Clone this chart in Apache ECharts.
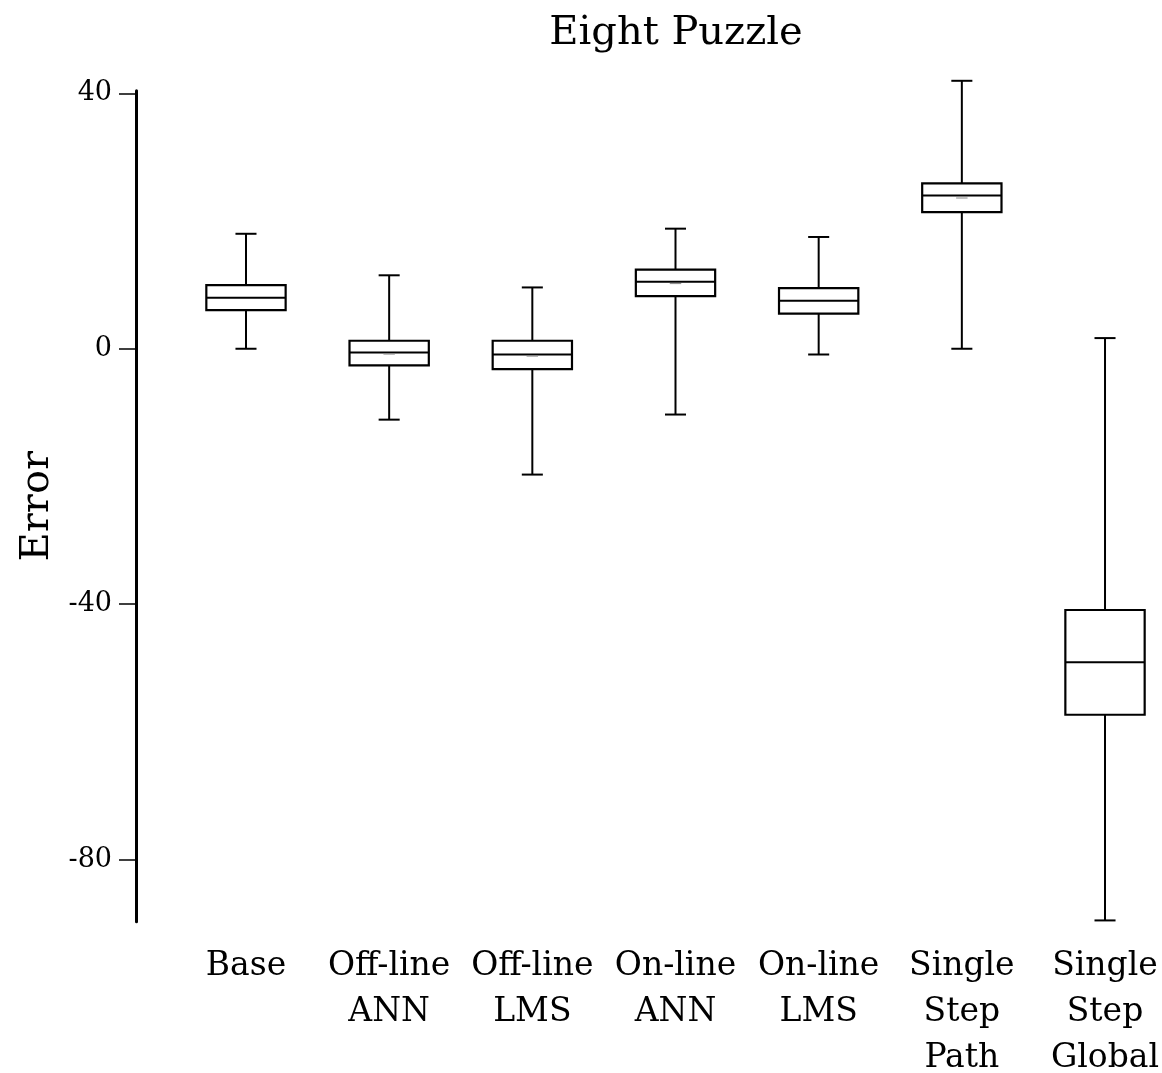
<!DOCTYPE html>
<html>
<head>
<meta charset="utf-8">
<script src="https://cdn.jsdelivr.net/npm/echarts@6/dist/echarts.min.js"></script>
<style>
html,body{margin:0;padding:0;background:#fff;overflow:hidden;}
#chart{width:1162px;height:1073px;}
</style>
</head>
<body>
<div id="chart"></div>
<script>
const categories = ['Base', 'Off-line\nANN', 'Off-line\nLMS', 'On-line\nANN', 'On-line\nLMS', 'Single\nStep\nPath', 'Single\nStep\nGlobal'];
const whiskerLow = [0, -11.1, -19.7, -10.3, -0.9, 0, -89.5];
const q1 = [6.06, -2.6, -3.2, 8.25, 5.5, 21.4, -57.3];
const median = [7.98, -0.58, -0.89, 10.5, 7.5, 24.0, -49.1];
const q3 = [9.97, 1.25, 1.25, 12.4, 9.5, 25.9, -40.9];
const whiskerHigh = [18.0, 11.5, 9.6, 18.8, 17.5, 41.95, 1.67];
const means = [null, -0.83, -1.15, 10.2, null, 23.6, null];
const yTicks = [40, 0, -40, -80];

const FONT = '"DejaVu Serif", serif';

const boxData = categories.map((c, i) => [i, whiskerLow[i], q1[i], median[i], q3[i], whiskerHigh[i], means[i] == null ? NaN : means[i]]);

function renderBox(params, api) {
  const idx = api.value(0);
  const band = api.size([1, 0])[0];
  const boxW = band * 0.554;
  const capW = band * 0.147;
  const meanW = band * 0.08;
  const pLow = api.coord([idx, api.value(1)]);
  const pQ1 = api.coord([idx, api.value(2)]);
  const pMed = api.coord([idx, api.value(3)]);
  const pQ3 = api.coord([idx, api.value(4)]);
  const pHigh = api.coord([idx, api.value(5)]);
  const x = pMed[0];
  const st = { stroke: '#000', lineWidth: 2, fill: null };
  const children = [
    { type: 'line', shape: { x1: x, y1: pHigh[1], x2: x, y2: pQ3[1] }, style: st },
    { type: 'line', shape: { x1: x, y1: pQ1[1], x2: x, y2: pLow[1] }, style: st },
    { type: 'line', shape: { x1: x - capW / 2, y1: pHigh[1], x2: x + capW / 2, y2: pHigh[1] }, style: st },
    { type: 'line', shape: { x1: x - capW / 2, y1: pLow[1], x2: x + capW / 2, y2: pLow[1] }, style: st },
    { type: 'rect', shape: { x: x - boxW / 2, y: pQ3[1], width: boxW, height: pQ1[1] - pQ3[1] }, style: { stroke: '#000', lineWidth: 2.2, fill: '#fff' } },
    { type: 'line', shape: { x1: x - boxW / 2, y1: pMed[1], x2: x + boxW / 2, y2: pMed[1] }, style: st }
  ];
  const mv = api.value(6);
  if (!isNaN(mv)) {
    const pMean = api.coord([idx, mv]);
    children.push({ type: 'line', shape: { x1: x - meanW / 2, y1: pMean[1], x2: x + meanW / 2, y2: pMean[1] }, style: { stroke: '#888', lineWidth: 1 } });
  }
  return { type: 'group', children: children };
}

const chart = echarts.init(document.getElementById('chart'), null, { renderer: 'canvas' });
chart.setOption({
  animation: false,
  backgroundColor: '#fff',
  title: {
    text: 'Eight Puzzle',
    left: 671,
    textAlign: 'center',
    top: 9,
    textStyle: { fontFamily: FONT, fontSize: 40, fontWeight: 'normal', color: '#000' }
  },
  grid: { left: 174.4, right: -14.6, top: 90.7, bottom: 151.3, containLabel: false, outerBoundsMode: 'none' },
  xAxis: {
    type: 'category',
    data: categories,
    axisLine: { show: false },
    axisTick: { show: false },
    splitLine: { show: false },
    axisLabel: {
      interval: 0,
      margin: 22,
      fontFamily: FONT,
      fontSize: 33,
      lineHeight: 46,
      color: '#000'
    }
  },
  yAxis: {
    type: 'value',
    min: -89.7,
    max: 40.4,
    offset: 38.4,
    name: 'Error',
    nameLocation: 'middle',
    nameRotate: 90,
    nameGap: 78,
    nameTextStyle: { fontFamily: FONT, fontSize: 40, color: '#000' },
    axisLine: { show: true, lineStyle: { color: '#000', width: 3 } },
    axisTick: { show: true, customValues: yTicks, length: 17, lineStyle: { color: '#000', width: 1.5 } },
    axisLabel: { customValues: yTicks, margin: 24, fontFamily: FONT, fontSize: 27, color: '#000', showMinLabel: true, showMaxLabel: true },
    splitLine: { show: false }
  },
  series: [{
    type: 'custom',
    renderItem: renderBox,
    data: boxData,
    clip: false,
    encode: { x: 0, y: [1, 2, 3, 4, 5] }
  }]
});
</script>
</body>
</html>
